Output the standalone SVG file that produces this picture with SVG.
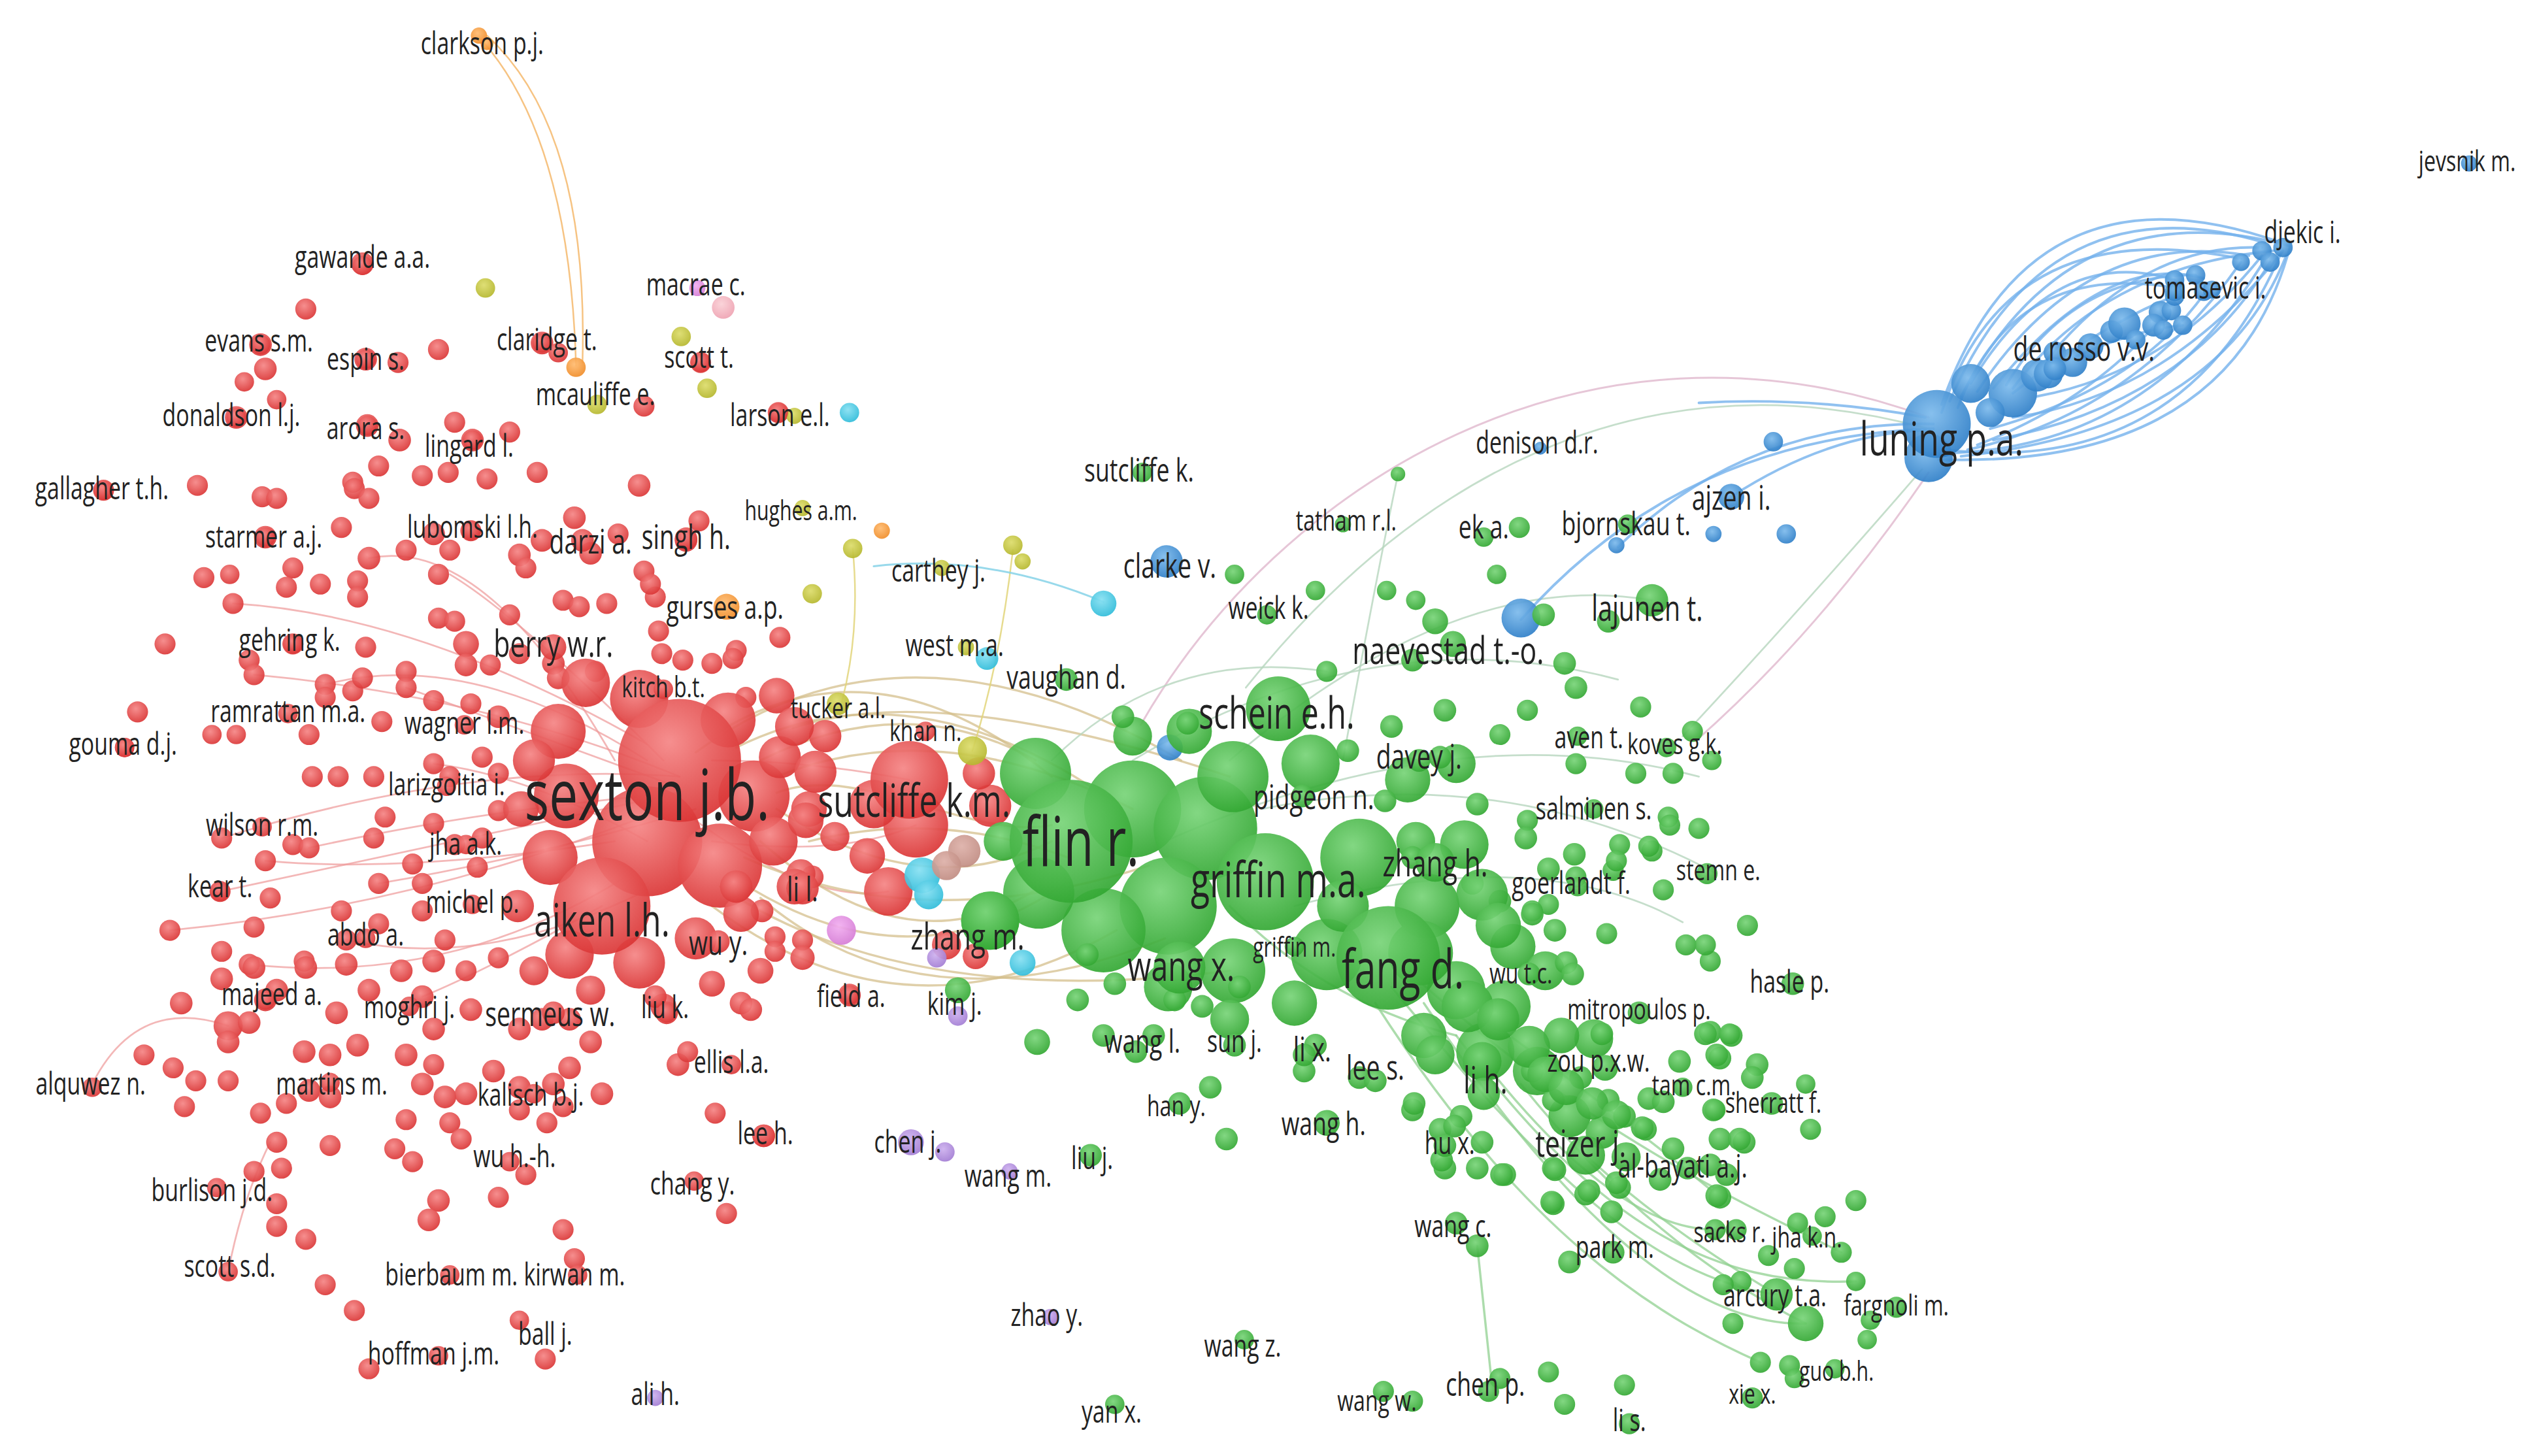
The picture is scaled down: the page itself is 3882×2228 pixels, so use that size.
<svg xmlns="http://www.w3.org/2000/svg" width="3882" height="2228" viewBox="0 0 3882 2228">
<defs>
<radialGradient id="gr" cx="0.42" cy="0.35" r="0.7"><stop offset="0" stop-color="#f58585"/><stop offset="1" stop-color="#d93131"/></radialGradient>
<radialGradient id="gg" cx="0.42" cy="0.35" r="0.7"><stop offset="0" stop-color="#78d478"/><stop offset="1" stop-color="#2fa52f"/></radialGradient>
<radialGradient id="gb" cx="0.42" cy="0.35" r="0.7"><stop offset="0" stop-color="#7cbaec"/><stop offset="1" stop-color="#2b7cc6"/></radialGradient>
<radialGradient id="gy" cx="0.42" cy="0.35" r="0.7"><stop offset="0" stop-color="#dcdc6a"/><stop offset="1" stop-color="#b3b52a"/></radialGradient>
<radialGradient id="go" cx="0.42" cy="0.35" r="0.7"><stop offset="0" stop-color="#ffbb70"/><stop offset="1" stop-color="#ef8a25"/></radialGradient>
<radialGradient id="gc" cx="0.42" cy="0.35" r="0.7"><stop offset="0" stop-color="#86e0f2"/><stop offset="1" stop-color="#2bbad8"/></radialGradient>
<radialGradient id="gp" cx="0.42" cy="0.35" r="0.7"><stop offset="0" stop-color="#cdb0ee"/><stop offset="1" stop-color="#a07ad2"/></radialGradient>
<radialGradient id="gm" cx="0.42" cy="0.35" r="0.7"><stop offset="0" stop-color="#f2aef0"/><stop offset="1" stop-color="#d47ad4"/></radialGradient>
<radialGradient id="gk" cx="0.42" cy="0.35" r="0.7"><stop offset="0" stop-color="#fad0d6"/><stop offset="1" stop-color="#eea0b0"/></radialGradient>
<radialGradient id="gn" cx="0.42" cy="0.35" r="0.7"><stop offset="0" stop-color="#ddb0a8"/><stop offset="1" stop-color="#bf8a80"/></radialGradient>
</defs>
<style>
circle{fill-opacity:.92}
.r circle{fill:url(#gr)} .g circle{fill:url(#gg)} .b circle{fill:url(#gb)} .y circle{fill:url(#gy)}
.o circle{fill:url(#go)} .c circle{fill:url(#gc)} .p circle{fill:url(#gp)} .m circle{fill:url(#gm)}
.k circle{fill:url(#gk)} .n circle{fill:url(#gn)}
path{fill:none;stroke-linecap:round}
.er path{stroke:#ee9898;stroke-width:1.1;opacity:.7}
.et path{stroke:#d4bf8c;stroke-width:1.4;opacity:.75}
.eg path{stroke:#90d090;stroke-width:1.4;opacity:.75}
.el path{stroke:#b6d6be;stroke-width:1.1;opacity:.8}
.eb path{stroke:#74b1ec;stroke-width:1.6;opacity:.8}
.eo path{stroke:#f5bd74;stroke-width:1;opacity:.9}
.ec path{stroke:#86d2e8;stroke-width:1.2;opacity:.85}
.ep path{stroke:#e2bcd0;stroke-width:1.2;opacity:.85}
.ey path{stroke:#e2d57a;stroke-width:1;opacity:.85}
text{font-family:"Open Sans","Noto Sans","Liberation Sans",sans-serif;font-size:19px;fill:#222;text-anchor:middle;dominant-baseline:central;transform-box:fill-box;transform-origin:center;transform:scaleX(.72)}
</style>
<rect width="3882" height="2228" fill="#ffffff"/>
<g transform="scale(2.4758)">
<g id="connectors">
<g class="er">
<path d="M420,480 Q300,430 157,417"/><path d="M420,480 Q290,470 137,518"/><path d="M420,490 Q280,520 136,551"/>
<path d="M410,500 Q260,560 105,575"/><path d="M400,470 Q290,400 201,423"/><path d="M400,460 Q260,380 144,373"/>
<path d="M380,520 Q250,540 164,532"/><path d="M390,540 Q280,610 154,596"/><path d="M400,550 Q300,600 214,581"/>
<path d="M420,490 Q300,500 191,524"/><path d="M410,470 Q320,380 278,355"/><path d="M415,485 Q320,450 251,425"/>
<path d="M430,500 Q330,530 234,546"/><path d="M57,670 Q85,615 141,634"/><path d="M167,706 Q150,740 141,786"/>
<path d="M372,560 Q300,600 261,616"/><path d="M400,520 Q330,480 268,472"/><path d="M440,470 Q500,470 562,482"/>
<path d="M440,520 Q520,530 566,510"/><path d="M420,500 Q500,560 549,551"/><path d="M380,470 Q300,330 228,345"/>
</g>
<g class="et">
<path d="M440,455 Q540,390 650,480"/><path d="M455,462 Q560,410 680,490"/><path d="M470,470 Q560,425 640,470"/>
<path d="M480,480 Q580,440 700,500"/><path d="M430,465 Q560,370 730,470"/><path d="M450,540 Q560,615 660,545"/>
<path d="M470,520 Q560,600 640,550"/><path d="M440,560 Q560,650 690,575"/><path d="M480,500 Q570,560 650,520"/>
<path d="M460,530 Q570,580 710,535"/><path d="M480,490 C530,470 600,520 650,510"/><path d="M490,450 Q580,420 760,480"/>
<path d="M470,555 Q570,640 720,580"/><path d="M500,520 Q580,500 660,530"/><path d="M445,548 Q560,625 760,600"/>
</g>
<g class="ey"><path d="M527,339 Q532,390 520,435"/><path d="M626,340 Q618,410 601,464"/></g>
<g class="ec"><path d="M540,350 Q610,342 682,372"/></g>
<g class="eo"><path d="M297,24 Q352,85 356,226"/><path d="M301,22 Q364,80 360,224"/></g>
<g class="ep"><path d="M705,448 C790,300 980,180 1192,258"/><path d="M1192,292 Q1125,390 1048,458"/></g>
<g class="el">
<path d="M770,425 C870,300 1010,215 1192,265"/><path d="M1188,290 Q1110,380 1040,455"/>
<path d="M700,470 Q850,380 1000,420"/><path d="M720,520 Q900,440 1050,480"/><path d="M780,500 Q930,470 1061,540"/>
<path d="M800,560 Q950,520 1040,570"/><path d="M760,470 Q900,350 1021,371"/><path d="M650,470 Q720,400 820,415"/>
<path d="M830,470 Q850,360 864,293"/>
</g>
<g class="eg">
<path d="M860,610 C950,720 1020,790 1098,800"/><path d="M880,620 C960,740 1040,820 1116,818"/>
<path d="M900,640 C990,760 1060,795 1147,792"/><path d="M870,600 C980,700 1080,745 1138,774"/>
<path d="M850,620 C940,760 1020,812 1088,842"/><path d="M920,660 Q1000,760 1060,760"/>
<path d="M940,670 Q1020,770 1116,818"/><path d="M913,770 L922,855"/><path d="M905,620 Q990,680 1063,740"/>
<path d="M980,714 Q1030,760 1098,800"/><path d="M760,560 Q820,620 900,640"/>
</g>
<g class="eb">
<path d="M940,383 Q1040,270 1195,265"/><path d="M1000,338 Q1080,260 1195,262"/><path d="M1070,307 Q1130,268 1190,266"/>
<path d="M1050,249 Q1120,245 1190,258"/>
<path d="M1200,250 Q1255,95 1410,150"/><path d="M1205,248 Q1265,110 1400,150"/><path d="M1212,245 Q1280,115 1415,152"/>
<path d="M1222,242 Q1290,140 1390,158"/><path d="M1232,240 Q1300,155 1362,172"/><path d="M1210,252 Q1245,160 1345,178"/>
<path d="M1244,240 Q1300,165 1405,155"/><path d="M1259,230 Q1320,150 1398,153"/><path d="M1240,238 Q1280,170 1357,170"/>
<path d="M1200,255 Q1240,130 1385,160"/><path d="M1218,237 Q1270,150 1344,173"/>
<path d="M1203,278 Q1350,295 1410,156"/><path d="M1207,280 Q1330,275 1400,160"/><path d="M1212,282 Q1370,265 1413,158"/>
<path d="M1216,278 Q1320,255 1385,162"/><path d="M1222,275 Q1300,245 1344,186"/><path d="M1232,272 Q1350,250 1403,162"/>
<path d="M1244,258 Q1340,245 1411,155"/><path d="M1198,284 Q1380,290 1416,150"/><path d="M1230,265 Q1320,240 1362,182"/>
<path d="M1259,245 Q1340,230 1398,158"/><path d="M1244,243 Q1300,200 1344,183"/><path d="M1259,232 Q1310,205 1349,201"/>
</g>
</g>
<g id="minor-nodes">
<g class="r">
<circle cx="224" cy="163" r="7"/><circle cx="189" cy="191" r="6.5"/><circle cx="161" cy="213" r="7"/><circle cx="164" cy="228" r="7"/><circle cx="151" cy="236" r="6"/><circle cx="171" cy="247" r="6"/><circle cx="146" cy="258" r="7"/><circle cx="226" cy="222" r="7"/><circle cx="246" cy="224" r="6.5"/><circle cx="271" cy="216" r="6.5"/><circle cx="335" cy="212" r="7"/><circle cx="345" cy="218" r="6"/><circle cx="398" cy="251" r="6.5"/><circle cx="433" cy="224" r="6.5"/><circle cx="481" cy="255" r="6.5"/><circle cx="227" cy="263" r="7"/><circle cx="247" cy="272" r="7"/><circle cx="234" cy="288" r="6.5"/><circle cx="281" cy="261" r="6.5"/><circle cx="292" cy="272" r="7"/><circle cx="315" cy="267" r="6.5"/><circle cx="332" cy="292" r="6.5"/><circle cx="261" cy="294" r="6.5"/><circle cx="277" cy="292" r="6.5"/><circle cx="301" cy="296" r="6.5"/><circle cx="395" cy="300" r="7"/><circle cx="218" cy="298" r="6.5"/><circle cx="122" cy="300" r="6.5"/><circle cx="64" cy="303" r="6.5"/><circle cx="162" cy="307" r="6.5"/><circle cx="171" cy="308" r="6.5"/><circle cx="219" cy="302" r="6.5"/><circle cx="228" cy="308" r="6.5"/>
<circle cx="164" cy="332" r="7"/><circle cx="211" cy="326" r="6.5"/><circle cx="228" cy="345" r="7"/><circle cx="251" cy="340" r="6.5"/><circle cx="268" cy="330" r="7"/><circle cx="278" cy="340" r="6.5"/><circle cx="291" cy="328" r="6.5"/><circle cx="321" cy="343" r="7"/><circle cx="335" cy="334" r="7"/><circle cx="355" cy="320" r="7"/><circle cx="365" cy="342" r="7"/><circle cx="382" cy="330" r="6.5"/><circle cx="398" cy="353" r="6.5"/><circle cx="424" cy="334" r="7"/><circle cx="432" cy="322" r="6.5"/>
<circle cx="126" cy="357" r="6.5"/><circle cx="142" cy="355" r="6"/><circle cx="144" cy="373" r="6.5"/><circle cx="181" cy="351" r="6.5"/><circle cx="177" cy="363" r="6.5"/><circle cx="198" cy="361" r="6.5"/><circle cx="221" cy="359" r="6.5"/><circle cx="221" cy="369" r="6.5"/><circle cx="271" cy="355" r="6.5"/><circle cx="271" cy="382" r="6.5"/><circle cx="281" cy="384" r="6.5"/><circle cx="315" cy="380" r="6.5"/><circle cx="325" cy="351" r="6.5"/><circle cx="348" cy="371" r="6.5"/><circle cx="358" cy="375" r="6.5"/><circle cx="375" cy="373" r="6.5"/><circle cx="405" cy="369" r="6.5"/><circle cx="402" cy="361" r="6.5"/>
<circle cx="102" cy="398" r="6.5"/><circle cx="154" cy="408" r="6.5"/><circle cx="157" cy="417" r="6.5"/><circle cx="181" cy="398" r="6.5"/><circle cx="201" cy="423" r="6.5"/><circle cx="218" cy="427" r="6.5"/><circle cx="224" cy="419" r="6.5"/><circle cx="226" cy="400" r="6.5"/><circle cx="251" cy="415" r="6.5"/><circle cx="251" cy="425" r="6.5"/><circle cx="288" cy="398" r="8"/><circle cx="288" cy="411" r="7"/><circle cx="303" cy="411" r="6.5"/><circle cx="321" cy="404" r="6.5"/><circle cx="342" cy="410" r="7"/><circle cx="345" cy="419" r="7"/><circle cx="368" cy="415" r="6.5"/>
<circle cx="407" cy="390" r="6.5"/><circle cx="409" cy="404" r="6.5"/><circle cx="422" cy="408" r="6.5"/><circle cx="440" cy="410" r="6.5"/><circle cx="455" cy="402" r="6.5"/><circle cx="482" cy="394" r="6.5"/><circle cx="461" cy="431" r="6.5"/>
<circle cx="85" cy="440" r="6.5"/><circle cx="77" cy="462" r="6"/><circle cx="131" cy="454" r="6"/><circle cx="146" cy="454" r="6"/><circle cx="191" cy="454" r="6.5"/><circle cx="201" cy="431" r="6.5"/><circle cx="236" cy="446" r="6.5"/><circle cx="268" cy="433" r="6.5"/><circle cx="291" cy="435" r="6.5"/><circle cx="308" cy="443" r="7"/>
<circle cx="193" cy="480" r="6.5"/><circle cx="209" cy="480" r="6.5"/><circle cx="231" cy="480" r="6.5"/><circle cx="268" cy="472" r="6.5"/><circle cx="278" cy="480" r="6.5"/><circle cx="298" cy="468" r="6.5"/><circle cx="308" cy="478" r="6.5"/>
<circle cx="137" cy="518" r="6.5"/><circle cx="181" cy="522" r="6.5"/><circle cx="191" cy="524" r="6.5"/><circle cx="231" cy="518" r="6.5"/><circle cx="238" cy="505" r="6.5"/><circle cx="268" cy="509" r="6.5"/><circle cx="281" cy="522" r="6.5"/><circle cx="298" cy="518" r="6.5"/><circle cx="308" cy="501" r="6.5"/>
<circle cx="136" cy="551" r="6.5"/><circle cx="164" cy="532" r="6.5"/><circle cx="167" cy="555" r="6.5"/><circle cx="234" cy="546" r="6.5"/><circle cx="255" cy="534" r="6.5"/><circle cx="261" cy="546" r="6.5"/><circle cx="295" cy="536" r="6.5"/>
<circle cx="105" cy="575" r="6.5"/><circle cx="157" cy="573" r="6.5"/><circle cx="137" cy="588" r="6.5"/><circle cx="154" cy="596" r="6.5"/><circle cx="188" cy="594" r="6.5"/><circle cx="211" cy="563" r="6.5"/><circle cx="214" cy="581" r="6.5"/><circle cx="234" cy="571" r="6.5"/><circle cx="261" cy="563" r="6.5"/><circle cx="275" cy="581" r="6.5"/><circle cx="288" cy="600" r="6.5"/><circle cx="308" cy="592" r="6.5"/>
<circle cx="471" cy="563" r="7"/><circle cx="479" cy="579" r="6.5"/><circle cx="496" cy="581" r="6.5"/><circle cx="502" cy="542" r="7"/>
<circle cx="400" cy="520" r="34"/><circle cx="445" cy="535" r="26"/><circle cx="466" cy="492" r="22"/><circle cx="350" cy="492" r="20"/><circle cx="345" cy="452" r="17"/><circle cx="362" cy="422" r="15"/><circle cx="395" cy="432" r="18"/><circle cx="450" cy="445" r="17"/><circle cx="482" cy="468" r="13"/><circle cx="478" cy="520" r="15"/><circle cx="340" cy="530" r="17"/><circle cx="352" cy="590" r="15"/><circle cx="395" cy="595" r="16"/><circle cx="430" cy="580" r="13"/><circle cx="458" cy="565" r="11"/><circle cx="322" cy="500" r="11"/><circle cx="330" cy="470" r="13"/><circle cx="480" cy="430" r="11"/><circle cx="510" cy="455" r="10"/><circle cx="500" cy="500" r="11"/><circle cx="495" cy="540" r="9"/><circle cx="320" cy="560" r="10"/><circle cx="330" cy="600" r="9"/><circle cx="365" cy="612" r="9"/><circle cx="410" cy="622" r="8"/><circle cx="440" cy="608" r="8"/><circle cx="470" cy="600" r="8"/>
<circle cx="453" cy="407" r="6.5"/><circle cx="491" cy="449" r="12"/><circle cx="504" cy="477" r="13"/><circle cx="498" cy="507" r="11"/><circle cx="516" cy="517" r="9"/><circle cx="536" cy="529" r="11"/><circle cx="549" cy="551" r="15"/><circle cx="491" cy="548" r="11"/><circle cx="455" cy="548" r="10"/><circle cx="479" cy="588" r="6.5"/><circle cx="496" cy="592" r="7.5"/><circle cx="458" cy="620" r="7"/><circle cx="525" cy="615" r="7"/>
<circle cx="566" cy="510" r="20"/><circle cx="540" cy="497" r="15"/><circle cx="612" cy="498" r="13"/><circle cx="605" cy="478" r="10"/><circle cx="585" cy="584" r="9"/><circle cx="603" cy="591" r="8"/>
<circle cx="112" cy="620" r="7"/><circle cx="141" cy="634" r="9"/><circle cx="141" cy="644" r="7"/><circle cx="154" cy="632" r="7"/><circle cx="137" cy="605" r="7"/><circle cx="157" cy="598" r="7"/><circle cx="189" cy="598" r="7"/><circle cx="214" cy="596" r="7"/><circle cx="171" cy="612" r="7"/><circle cx="164" cy="618" r="7"/><circle cx="208" cy="626" r="7"/><circle cx="228" cy="612" r="7"/><circle cx="248" cy="600" r="7"/><circle cx="261" cy="616" r="7"/><circle cx="268" cy="636" r="7"/><circle cx="268" cy="594" r="7"/><circle cx="291" cy="624" r="7"/><circle cx="321" cy="636" r="7"/><circle cx="335" cy="630" r="7"/><circle cx="352" cy="630" r="7"/><circle cx="365" cy="644" r="7"/><circle cx="412" cy="626" r="7"/><circle cx="405" cy="616" r="7"/><circle cx="464" cy="624" r="7"/>
<circle cx="89" cy="652" r="6.5"/><circle cx="107" cy="660" r="6.5"/><circle cx="121" cy="668" r="6.5"/><circle cx="141" cy="668" r="6.5"/><circle cx="114" cy="684" r="6.5"/><circle cx="188" cy="650" r="7"/><circle cx="204" cy="652" r="7"/><circle cx="221" cy="646" r="7"/><circle cx="191" cy="674" r="7"/><circle cx="204" cy="678" r="7"/><circle cx="177" cy="682" r="6.5"/><circle cx="161" cy="688" r="6.5"/><circle cx="251" cy="652" r="7"/><circle cx="268" cy="658" r="6.5"/><circle cx="261" cy="670" r="7"/><circle cx="275" cy="678" r="7"/><circle cx="288" cy="676" r="7"/><circle cx="305" cy="662" r="7"/><circle cx="321" cy="672" r="7"/><circle cx="342" cy="670" r="7"/><circle cx="352" cy="660" r="7"/><circle cx="372" cy="676" r="7"/><circle cx="321" cy="686" r="6.5"/><circle cx="338" cy="694" r="6.5"/><circle cx="348" cy="684" r="6.5"/><circle cx="419" cy="658" r="7"/><circle cx="425" cy="650" r="6.5"/><circle cx="442" cy="688" r="6.5"/><circle cx="472" cy="702" r="7"/>
<circle cx="278" cy="694" r="6.5"/><circle cx="285" cy="704" r="6.5"/><circle cx="251" cy="692" r="6.5"/><circle cx="244" cy="710" r="6.5"/><circle cx="255" cy="718" r="6.5"/><circle cx="204" cy="708" r="6.5"/><circle cx="174" cy="722" r="6.5"/><circle cx="171" cy="706" r="6.5"/><circle cx="325" cy="726" r="6.5"/><circle cx="308" cy="740" r="6.5"/><circle cx="157" cy="724" r="6.5"/><circle cx="171" cy="744" r="6.5"/><circle cx="171" cy="758" r="6.5"/><circle cx="271" cy="742" r="7"/><circle cx="265" cy="754" r="7"/><circle cx="449" cy="750" r="6.5"/><circle cx="189" cy="766" r="6.5"/><circle cx="348" cy="760" r="6.5"/><circle cx="355" cy="778" r="6.5"/><circle cx="201" cy="794" r="6.5"/><circle cx="219" cy="810" r="6.5"/><circle cx="337" cy="840" r="6.5"/><circle cx="228" cy="846" r="6.5"/>
</g>
<g class="o"><circle cx="301" cy="27" r="4"/><circle cx="356" cy="227" r="6"/><circle cx="545" cy="328" r="5"/></g>
<g class="y"><circle cx="300" cy="178" r="6"/><circle cx="421" cy="208" r="6"/><circle cx="437" cy="240" r="6"/><circle cx="491" cy="257" r="5"/><circle cx="527" cy="339" r="6"/><circle cx="502" cy="367" r="6"/><circle cx="626" cy="337" r="6"/><circle cx="632" cy="347" r="5"/><circle cx="601" cy="464" r="9"/></g>
<g class="c"><circle cx="525" cy="255" r="6"/><circle cx="682" cy="373" r="8"/><circle cx="610" cy="407" r="7"/><circle cx="570" cy="541" r="11"/><circle cx="574" cy="553" r="9"/><circle cx="632" cy="595" r="8"/></g>
<g class="k"><circle cx="447" cy="190" r="7"/></g>
<g class="m"><circle cx="520" cy="575" r="9"/></g>
<g class="n"><circle cx="596" cy="526" r="10"/><circle cx="585" cy="535" r="9"/></g>
<g class="p"><circle cx="579" cy="592" r="6"/><circle cx="592" cy="628" r="6"/><circle cx="584" cy="712" r="6"/></g>
<g class="b">
<circle cx="723" cy="462" r="8"/><circle cx="940" cy="382" r="12"/><circle cx="1059" cy="330" r="5"/><circle cx="1104" cy="330" r="6"/><circle cx="1096" cy="273" r="6"/>
<circle cx="1192" cy="283" r="15"/><circle cx="1218" cy="237" r="12"/><circle cx="1244" cy="243" r="15"/><circle cx="1230" cy="255" r="9"/><circle cx="1259" cy="232" r="10"/><circle cx="1266" cy="231" r="9"/><circle cx="1270" cy="218" r="7"/><circle cx="1281" cy="224" r="9"/><circle cx="1292" cy="214" r="8"/><circle cx="1305" cy="205" r="7"/><circle cx="1313" cy="200" r="10"/><circle cx="1320" cy="210" r="6"/><circle cx="1335" cy="193" r="7"/><circle cx="1331" cy="201" r="7"/><circle cx="1342" cy="192" r="6"/><circle cx="1344" cy="183" r="6"/><circle cx="1344" cy="173" r="6"/><circle cx="1357" cy="170" r="6"/><circle cx="1362" cy="180" r="6"/><circle cx="1349" cy="201" r="6"/><circle cx="1337" cy="204" r="6"/><circle cx="1367" cy="179" r="5.5"/><circle cx="1385" cy="162" r="5.5"/><circle cx="1398" cy="155" r="6"/><circle cx="1403" cy="162" r="6"/>
</g>
<g class="g">
<circle cx="640" cy="478" r="22"/><circle cx="700" cy="500" r="30"/><circle cx="745" cy="512" r="32"/><circle cx="722" cy="560" r="30"/><circle cx="682" cy="575" r="26"/><circle cx="642" cy="552" r="22"/><circle cx="762" cy="480" r="22"/><circle cx="810" cy="472" r="18"/><circle cx="840" cy="530" r="24"/><circle cx="882" cy="560" r="20"/><circle cx="820" cy="590" r="22"/><circle cx="762" cy="600" r="20"/><circle cx="722" cy="610" r="15"/><circle cx="735" cy="452" r="14"/><circle cx="900" cy="612" r="18"/><circle cx="930" cy="622" r="16"/><circle cx="918" cy="650" r="18"/><circle cx="950" cy="662" r="15"/><circle cx="970" cy="690" r="13"/><circle cx="985" cy="642" r="12"/><circle cx="905" cy="522" r="15"/><circle cx="870" cy="482" r="14"/><circle cx="900" cy="472" r="12"/><circle cx="612" cy="569" r="18"/><circle cx="620" cy="520" r="12"/><circle cx="700" cy="455" r="12"/><circle cx="760" cy="630" r="12"/><circle cx="800" cy="620" r="14"/><circle cx="830" cy="560" r="16"/><circle cx="880" cy="640" r="14"/><circle cx="875" cy="520" r="12"/><circle cx="935" cy="585" r="14"/><circle cx="955" cy="600" r="12"/><circle cx="965" cy="640" r="11"/><circle cx="990" cy="700" r="10"/><circle cx="1005" cy="715" r="9"/>
<circle cx="864" cy="293" r="4.5"/><circle cx="939" cy="326" r="6.5"/><circle cx="1006" cy="324" r="6"/><circle cx="763" cy="355" r="6"/><circle cx="813" cy="365" r="6"/><circle cx="857" cy="365" r="6"/><circle cx="875" cy="371" r="6"/><circle cx="925" cy="355" r="6"/><circle cx="887" cy="384" r="8"/><circle cx="873" cy="408" r="7"/><circle cx="954" cy="380" r="7"/><circle cx="967" cy="410" r="7"/><circle cx="974" cy="425" r="7"/><circle cx="994" cy="384" r="7"/><circle cx="820" cy="415" r="6.5"/><circle cx="694" cy="443" r="7"/><circle cx="734" cy="447" r="7"/><circle cx="893" cy="439" r="7"/><circle cx="944" cy="439" r="6.5"/><circle cx="927" cy="454" r="6.5"/><circle cx="1014" cy="437" r="6.5"/><circle cx="974" cy="472" r="6.5"/><circle cx="1011" cy="478" r="6.5"/><circle cx="1034" cy="478" r="6.5"/><circle cx="860" cy="449" r="7"/><circle cx="890" cy="468" r="7"/><circle cx="833" cy="464" r="7"/><circle cx="856" cy="495" r="7"/><circle cx="913" cy="497" r="7"/><circle cx="944" cy="507" r="6.5"/><circle cx="1031" cy="505" r="6.5"/><circle cx="1001" cy="522" r="6.5"/><circle cx="1021" cy="526" r="6.5"/><circle cx="873" cy="530" r="7"/><circle cx="910" cy="546" r="7"/><circle cx="927" cy="557" r="7"/><circle cx="957" cy="559" r="6.5"/><circle cx="974" cy="542" r="6.5"/><circle cx="997" cy="538" r="6.5"/><circle cx="947" cy="563" r="6.5"/><circle cx="1046" cy="452" r="6.5"/><circle cx="1058" cy="470" r="6"/>
<circle cx="672" cy="590" r="7"/><circle cx="689" cy="608" r="7"/><circle cx="666" cy="618" r="7"/><circle cx="641" cy="644" r="8"/><circle cx="726" cy="618" r="7"/><circle cx="743" cy="622" r="7"/><circle cx="766" cy="610" r="7"/><circle cx="682" cy="640" r="7"/><circle cx="713" cy="640" r="7"/><circle cx="813" cy="646" r="7"/><circle cx="806" cy="662" r="7"/><circle cx="840" cy="666" r="7"/><circle cx="748" cy="672" r="7"/><circle cx="758" cy="704" r="7"/><circle cx="873" cy="686" r="7"/><circle cx="890" cy="698" r="7"/><circle cx="903" cy="690" r="7"/><circle cx="893" cy="722" r="7"/><circle cx="913" cy="722" r="7"/><circle cx="930" cy="726" r="7"/><circle cx="947" cy="662" r="7"/><circle cx="960" cy="680" r="7"/><circle cx="977" cy="666" r="7"/><circle cx="994" cy="680" r="7"/><circle cx="1004" cy="690" r="7"/><circle cx="1017" cy="698" r="7"/><circle cx="1034" cy="710" r="7"/><circle cx="960" cy="722" r="7"/><circle cx="980" cy="738" r="7"/><circle cx="960" cy="744" r="7"/><circle cx="1001" cy="734" r="7"/><circle cx="913" cy="770" r="7"/><circle cx="970" cy="780" r="7"/><circle cx="927" cy="852" r="6.5"/><circle cx="957" cy="848" r="6.5"/><circle cx="967" cy="868" r="6.5"/><circle cx="1004" cy="856" r="6.5"/><circle cx="873" cy="866" r="6.5"/>
<circle cx="1057" cy="594" r="6.5"/><circle cx="1057" cy="638" r="7"/><circle cx="1070" cy="640" r="7"/><circle cx="1063" cy="654" r="7"/><circle cx="1086" cy="658" r="7"/><circle cx="1083" cy="666" r="7"/><circle cx="1116" cy="670" r="6"/><circle cx="1060" cy="686" r="6.5"/><circle cx="1119" cy="698" r="6.5"/><circle cx="1063" cy="704" r="7"/><circle cx="1078" cy="706" r="7"/><circle cx="1057" cy="720" r="7"/><circle cx="1067" cy="726" r="7"/><circle cx="1063" cy="740" r="7"/><circle cx="1147" cy="742" r="6.5"/><circle cx="1060" cy="760" r="6.5"/><circle cx="1111" cy="756" r="6.5"/><circle cx="1128" cy="752" r="6.5"/><circle cx="1138" cy="774" r="6.5"/><circle cx="1093" cy="776" r="6.5"/><circle cx="1116" cy="818" r="11"/><circle cx="1109" cy="784" r="6.5"/><circle cx="1076" cy="792" r="6.5"/><circle cx="1065" cy="794" r="6.5"/><circle cx="1071" cy="818" r="6.5"/><circle cx="1147" cy="792" r="6"/><circle cx="1156" cy="816" r="6"/><circle cx="1154" cy="828" r="6"/><circle cx="1106" cy="844" r="6.5"/><circle cx="1088" cy="842" r="6.5"/><circle cx="1109" cy="852" r="6"/>
<circle cx="1032" cy="510" r="6.5"/><circle cx="1050" cy="512" r="6.5"/><circle cx="1019" cy="523" r="6.5"/><circle cx="973" cy="528" r="7"/><circle cx="999" cy="532" r="6.5"/><circle cx="1028" cy="550" r="6.5"/><circle cx="943" cy="518" r="7"/><circle cx="957" cy="537" r="7"/><circle cx="947" cy="565" r="7"/><circle cx="961" cy="575" r="7"/><circle cx="993" cy="577" r="6.5"/><circle cx="1042" cy="584" r="6.5"/><circle cx="1054" cy="584" r="6.5"/><circle cx="1080" cy="572" r="6.5"/><circle cx="968" cy="595" r="7"/><circle cx="972" cy="602" r="7"/><circle cx="990" cy="639" r="7"/><circle cx="1054" cy="639" r="7"/><circle cx="1069" cy="639" r="6.5"/><circle cx="1061" cy="652" r="7"/><circle cx="1038" cy="656" r="7"/><circle cx="1019" cy="679" r="7"/><circle cx="1028" cy="681" r="7"/><circle cx="1059" cy="686" r="7"/><circle cx="1075" cy="704" r="7"/><circle cx="1015" cy="697" r="7"/><circle cx="961" cy="723" r="7"/><circle cx="982" cy="736" r="7"/><circle cx="999" cy="731" r="7"/><circle cx="1026" cy="729" r="7"/><circle cx="1061" cy="739" r="7"/><circle cx="959" cy="743" r="7"/><circle cx="996" cy="749" r="7"/><circle cx="874" cy="682" r="7"/><circle cx="916" cy="706" r="7"/><circle cx="899" cy="696" r="7"/><circle cx="891" cy="717" r="7"/><circle cx="928" cy="726" r="7"/>
<circle cx="878" cy="589" r="20"/><circle cx="916" cy="553" r="16"/><circle cx="926" cy="572" r="14"/><circle cx="907" cy="622" r="16"/><circle cx="926" cy="630" r="13"/><circle cx="945" cy="647" r="13"/><circle cx="916" cy="656" r="12"/><circle cx="955" cy="664" r="11"/><circle cx="968" cy="672" r="11"/><circle cx="984" cy="682" r="10"/><circle cx="999" cy="689" r="9"/><circle cx="887" cy="652" r="12"/>
</g>
</g>
<g id="nodes">
<g id="n-flin-r" class="g"><circle cx="662" cy="520" r="38"/><text x="668" y="519" style="font-size:42px">flin r.</text></g>
<g id="n-sexton-jb" class="r"><circle cx="420" cy="470" r="38"/><text x="400" y="490" style="font-size:44px">sexton j.b.</text></g>
<g id="n-fang-d" class="g"><circle cx="858" cy="592" r="32"/><text x="867" y="598" style="font-size:33px">fang d.</text></g>
<g id="n-griffin-ma" class="g"><circle cx="782" cy="545" r="30"/><text x="790" y="543" style="font-size:30px">griffin m.a.</text></g>
<g id="n-aiken-lh" class="r"><circle cx="372" cy="560" r="30"/><text x="372" y="568" style="font-size:28px">aiken l.h.</text></g>
<g id="n-sutcliffe-km" class="r"><circle cx="562" cy="482" r="24"/><text x="565" y="494" style="font-size:28px">sutcliffe k.m.</text></g>
<g id="n-luning-pa" class="b"><circle cx="1197" cy="262" r="21"/><text x="1200" y="270" style="font-size:29px">luning p.a.</text></g>
<g id="n-schein-eh" class="g"><circle cx="790" cy="438" r="20"/><text x="789" y="440" style="font-size:27px">schein e.h.</text></g>
<g id="n-wang-x" class="g"><circle cx="729" cy="598" r="16"/><text x="730" y="596" style="font-size:26px">wang x.</text></g>
<g id="n-zhang-h" class="g"><circle cx="887" cy="533" r="12"/><text x="887" y="533" style="font-size:23px">zhang h.</text></g>
<g id="n-teizer-j" class="g"><circle cx="980" cy="714" r="12"/><text x="977" y="706" style="font-size:23px">teizer j.</text></g>
<g id="n-li-h" class="g"><circle cx="917" cy="676" r="10"/><text x="918" y="667" style="font-size:23px">li h.</text></g>
<g id="n-lajunen-t" class="g"><circle cx="1021" cy="371" r="10"/><text x="1018" y="375" style="font-size:22px">lajunen t.</text></g>
<g id="n-naevestad-to" class="g"><circle cx="898" cy="398" r="8"/><text x="895" y="401" style="font-size:24px">naevestad t.-o.</text></g>
<g id="n-clarke-v" class="b"><circle cx="721" cy="347" r="10"/><text x="723" y="349" style="font-size:21px">clarke v.</text></g>
<g id="n-ajzen-i" class="b"><circle cx="1070" cy="307" r="8"/><text x="1070" y="307" style="font-size:21px">ajzen i.</text></g>
<g id="n-berry-wr" class="r"><circle cx="342" cy="400" r="8"/><text x="342" y="397" style="font-size:23px">berry w.r.</text></g>
<g id="n-zhang-m" class="g"><circle cx="612" cy="569" r="18"/><text x="598" y="578" style="font-size:23px">zhang m.</text></g>
<g id="n-darzi-a" class="r"><circle cx="360" cy="334" r="7"/><text x="365" y="334" style="font-size:21px">darzi a.</text></g>
<g id="n-singh-h" class="r"><circle cx="424" cy="333" r="7"/><text x="424" y="331" style="font-size:21px">singh h.</text></g>
<g id="n-pidgeon-n" class="g"><circle cx="805" cy="492" r="7"/><text x="812" y="492" style="font-size:21px">pidgeon n.</text></g>
<g id="n-davey-j" class="g"><circle cx="877" cy="470" r="7"/><text x="877" y="467" style="font-size:21px">davey j.</text></g>
<g id="n-sermeus-w" class="r"><circle cx="342" cy="626" r="7"/><text x="340" y="626" style="font-size:21px">sermeus w.</text></g>
<g id="n-wu-y" class="r"><circle cx="444" cy="582" r="7"/><text x="444" y="582" style="font-size:21px">wu y.</text></g>
<g id="n-li-l" class="r"><circle cx="496" cy="549" r="10"/><text x="496" y="549" style="font-size:21px">li l.</text></g>
<g id="n-li-x" class="g"><circle cx="806" cy="652" r="7"/><text x="811" y="648" style="font-size:21px">li x.</text></g>
<g id="n-lee-s" class="g"><circle cx="850" cy="668" r="7"/><text x="850" y="659" style="font-size:21px">lee s.</text></g>
<g id="n-de-rosso-vv" class="b"><circle cx="1270" cy="228" r="7"/><text x="1288" y="215" style="font-size:21px">de rosso v.v.</text></g>
<g id="n-clarkson-pj" class="o"><circle cx="296" cy="22" r="5"/><text x="298" y="26">clarkson p.j.</text></g>
<g id="n-gawande-aa" class="r"><circle cx="224" cy="164" r="6"/><text x="224" y="158">gawande a.a.</text></g>
<g id="n-macrae-c" class="m"><circle cx="431" cy="178" r="5"/><text x="430" y="175">macrae c.</text></g>
<g id="n-evans-sm" class="r"><circle cx="161" cy="213" r="6"/><text x="160" y="210">evans s.m.</text></g>
<g id="n-espin-s" class="r"><circle cx="226" cy="222" r="6"/><text x="226" y="221">espin s.</text></g>
<g id="n-claridge-t" class="r"><circle cx="335" cy="212" r="6"/><text x="338" y="209">claridge t.</text></g>
<g id="n-scott-t" class="r"><circle cx="433" cy="224" r="6"/><text x="432" y="220">scott t.</text></g>
<g id="n-donaldson-lj" class="r"><circle cx="146" cy="258" r="6"/><text x="143" y="256">donaldson l.j.</text></g>
<g id="n-arora-s" class="r"><circle cx="227" cy="263" r="6"/><text x="226" y="264">arora s.</text></g>
<g id="n-mcauliffe-e" class="y"><circle cx="369" cy="250" r="6"/><text x="368" y="243">mcauliffe e.</text></g>
<g id="n-larson-el" class="r"><circle cx="481" cy="255" r="6"/><text x="482" y="256">larson e.l.</text></g>
<g id="n-lingard-l" class="r"><circle cx="292" cy="272" r="6"/><text x="290" y="275">lingard l.</text></g>
<g id="n-gallagher-th" class="r"><circle cx="64" cy="303" r="6"/><text x="63" y="301">gallagher t.h.</text></g>
<g id="n-starmer-aj" class="r"><circle cx="164" cy="332" r="6"/><text x="163" y="331">starmer a.j.</text></g>
<g id="n-lubomski-lh" class="r"><circle cx="291" cy="328" r="6"/><text x="292" y="325">lubomski l.h.</text></g>
<g id="n-hughes-am" class="y"><circle cx="496" cy="314" r="5"/><text x="495" y="315" style="font-size:17px">hughes a.m.</text></g>
<g id="n-gehring-k" class="r"><circle cx="181" cy="398" r="6"/><text x="179" y="395">gehring k.</text></g>
<g id="n-gurses-ap" class="o"><circle cx="449" cy="375" r="8"/><text x="448" y="375" style="font-size:20px">gurses a.p.</text></g>
<g id="n-kitch-bt" class="r"><circle cx="410" cy="426" r="6"/><text x="410" y="424" style="font-size:18px">kitch b.t.</text></g>
<g id="n-ramrattan-ma" class="r"><circle cx="178" cy="441" r="6"/><text x="178" y="439">ramrattan m.a.</text></g>
<g id="n-wagner-lm" class="r"><circle cx="287" cy="448" r="6"/><text x="287" y="446">wagner l.m.</text></g>
<g id="n-gouma-dj" class="r"><circle cx="77" cy="462" r="6"/><text x="76" y="459">gouma d.j.</text></g>
<g id="n-larizgoitia-i" class="r"><circle cx="276" cy="486" r="6"/><text x="276" y="484">larizgoitia i.</text></g>
<g id="n-wilson-rm" class="r"><circle cx="162" cy="511" r="6"/><text x="162" y="509">wilson r.m.</text></g>
<g id="n-jha-ak" class="r"><circle cx="288" cy="522" r="6"/><text x="288" y="521">jha a.k.</text></g>
<g id="n-kear-t" class="r"><circle cx="136" cy="551" r="6"/><text x="136" y="547">kear t.</text></g>
<g id="n-michel-p" class="r"><circle cx="292" cy="559" r="6"/><text x="292" y="557">michel p.</text></g>
<g id="n-abdo-a" class="r"><circle cx="226" cy="580" r="6"/><text x="226" y="577">abdo a.</text></g>
<g id="n-majeed-a" class="r"><circle cx="164" cy="618" r="6"/><text x="168" y="614">majeed a.</text></g>
<g id="n-moghri-j" class="r"><circle cx="253" cy="622" r="6"/><text x="253" y="622">moghri j.</text></g>
<g id="n-liu-k" class="r"><circle cx="412" cy="626" r="6"/><text x="411" y="622">liu k.</text></g>
<g id="n-alquwez-n" class="r"><circle cx="57" cy="672" r="6"/><text x="56" y="669">alquwez n.</text></g>
<g id="n-martins-m" class="r"><circle cx="204" cy="669" r="6"/><text x="205" y="669">martins m.</text></g>
<g id="n-kalisch-bj" class="r"><circle cx="330" cy="676" r="6"/><text x="328" y="676">kalisch b.j.</text></g>
<g id="n-ellis-la" class="r"><circle cx="452" cy="658" r="6"/><text x="452" y="656">ellis l.a.</text></g>
<g id="n-lee-h" class="r"><circle cx="472" cy="702" r="7"/><text x="473" y="700">lee h.</text></g>
<g id="n-wu-hh" class="r"><circle cx="315" cy="718" r="6"/><text x="318" y="714">wu h.-h.</text></g>
<g id="n-burlison-jd" class="r"><circle cx="134" cy="734" r="6"/><text x="131" y="735">burlison j.d.</text></g>
<g id="n-chang-y" class="r"><circle cx="429" cy="730" r="6"/><text x="428" y="731">chang y.</text></g>
<g id="n-scott-sd" class="r"><circle cx="141" cy="786" r="6"/><text x="142" y="782">scott s.d.</text></g>
<g id="n-bierbaum-m" class="r"><circle cx="278" cy="788" r="6"/><text x="279" y="787">bierbaum m.</text></g>
<g id="n-kirwan-m" class="r"><circle cx="357" cy="788" r="6"/><text x="355" y="787">kirwan m.</text></g>
<g id="n-ball-j" class="r"><circle cx="321" cy="816" r="6"/><text x="337" y="824">ball j.</text></g>
<g id="n-hoffman-jm" class="r"><circle cx="271" cy="838" r="6"/><text x="268" y="836">hoffman j.m.</text></g>
<g id="n-ali-h" class="p"><circle cx="405" cy="864" r="5"/><text x="405" y="861">ali h.</text></g>
<g id="n-tucker-al" class="y"><circle cx="518" cy="435" r="7"/><text x="518" y="437" style="font-size:18px">tucker a.l.</text></g>
<g id="n-khan-n" class="r"><circle cx="572" cy="452" r="6"/><text x="572" y="451" style="font-size:18px">khan n.</text></g>
<g id="n-carthey-j" class="y"><circle cx="582" cy="351" r="5"/><text x="580" y="352">carthey j.</text></g>
<g id="n-west-ma" class="y"><circle cx="597" cy="400" r="5"/><text x="590" y="398">west m.a.</text></g>
<g id="n-field-a" class="r"><circle cx="525" cy="615" r="6"/><text x="526" y="615">field a.</text></g>
<g id="n-kim-j" class="g"><circle cx="592" cy="612" r="8"/><text x="590" y="620">kim j.</text></g>
<g id="n-chen-j" class="p"><circle cx="563" cy="706" r="8"/><text x="561" y="705">chen j.</text></g>
<g id="n-wang-m" class="p"><circle cx="624" cy="724" r="5"/><text x="623" y="726">wang m.</text></g>
<g id="n-zhao-y" class="p"><circle cx="649" cy="814" r="5"/><text x="647" y="812">zhao y.</text></g>
<g id="n-yan-x" class="g"><circle cx="689" cy="868" r="6"/><text x="687" y="872">yan x.</text></g>
<g id="n-wang-z" class="g"><circle cx="769" cy="828" r="6"/><text x="768" y="831">wang z.</text></g>
<g id="n-liu-j" class="g"><circle cx="674" cy="714" r="7"/><text x="675" y="715">liu j.</text></g>
<g id="n-sutcliffe-k" class="g"><circle cx="706" cy="292" r="6"/><text x="704" y="290" style="font-size:20px">sutcliffe k.</text></g>
<g id="n-tatham-rl" class="g"><circle cx="830" cy="324" r="5"/><text x="832" y="321" style="font-size:18px">tatham r.l.</text></g>
<g id="n-denison-dr" class="b"><circle cx="952" cy="277" r="4"/><text x="950" y="273">denison d.r.</text></g>
<g id="n-ek-a" class="g"><circle cx="917" cy="332" r="6"/><text x="917" y="325" style="font-size:20px">ek a.</text></g>
<g id="n-bjornskau-t" class="b"><circle cx="999" cy="337" r="5"/><text x="1005" y="323" style="font-size:20px">bjornskau t.</text></g>
<g id="n-weick-k" class="g"><circle cx="783" cy="380" r="6"/><text x="784" y="375">weick k.</text></g>
<g id="n-vaughan-d" class="g"><circle cx="659" cy="420" r="7"/><text x="659" y="418" style="font-size:20px">vaughan d.</text></g>
<g id="n-aven-t" class="g"><circle cx="975" cy="455" r="6"/><text x="982" y="455">aven t.</text></g>
<g id="n-koves-gk" class="g"><circle cx="1030" cy="462" r="6"/><text x="1035" y="459" style="font-size:18px">koves g.k.</text></g>
<g id="n-salminen-s" class="g"><circle cx="985" cy="500" r="6"/><text x="985" y="499">salminen s.</text></g>
<g id="n-goerlandt-f" class="g"><circle cx="975" cy="548" r="6"/><text x="971" y="545">goerlandt f.</text></g>
<g id="n-stemn-e" class="g"><circle cx="1055" cy="540" r="6.5"/><text x="1062" y="537" style="font-size:18px">stemn e.</text></g>
<g id="n-griffin-m" class="g"><circle cx="800" cy="585" r="6"/><text x="800" y="585" style="font-size:17px">griffin m.</text></g>
<g id="n-wu-tc" class="g"><circle cx="945" cy="602" r="7"/><text x="940" y="601" style="font-size:18px">wu t.c.</text></g>
<g id="n-hasle-p" class="g"><circle cx="1108" cy="608" r="7"/><text x="1106" y="606">hasle p.</text></g>
<g id="n-mitropoulos-p" class="g"><circle cx="1013" cy="626" r="7"/><text x="1013" y="623" style="font-size:18px">mitropoulos p.</text></g>
<g id="n-wang-l" class="g"><circle cx="702" cy="650" r="7"/><text x="706" y="643" style="font-size:20px">wang l.</text></g>
<g id="n-sun-j" class="g"><circle cx="763" cy="646" r="7"/><text x="763" y="643">sun j.</text></g>
<g id="n-zou-pxw" class="g"><circle cx="992" cy="660" r="8"/><text x="988" y="655">zou p.x.w.</text></g>
<g id="n-tam-cm" class="g"><circle cx="1040" cy="672" r="6"/><text x="1047" y="670" style="font-size:18px">tam c.m.</text></g>
<g id="n-sherratt-f" class="g"><circle cx="1095" cy="682" r="7"/><text x="1096" y="681" style="font-size:18px">sherratt f.</text></g>
<g id="n-han-y" class="g"><circle cx="729" cy="682" r="7"/><text x="727" y="683" style="font-size:18px">han y.</text></g>
<g id="n-wang-h" class="g"><circle cx="820" cy="694" r="8"/><text x="818" y="694" style="font-size:20px">wang h.</text></g>
<g id="n-hu-x" class="g"><circle cx="893" cy="708" r="7"/><text x="896" y="706">hu x.</text></g>
<g id="n-al-bayati-aj" class="g"><circle cx="1043" cy="722" r="7"/><text x="1040" y="720" style="font-size:20px">al-bayati a.j.</text></g>
<g id="n-wang-c" class="g"><circle cx="900" cy="756" r="7"/><text x="898" y="757">wang c.</text></g>
<g id="n-park-m" class="g"><circle cx="997" cy="774" r="7"/><text x="998" y="770">park m.</text></g>
<g id="n-sacks-r" class="g"><circle cx="1073" cy="760" r="6.5"/><text x="1069" y="761" style="font-size:18px">sacks r.</text></g>
<g id="n-jha-kn" class="g"><circle cx="1120" cy="764" r="6"/><text x="1117" y="764" style="font-size:18px">jha k.n.</text></g>
<g id="n-arcury-ta" class="g"><circle cx="1098" cy="800" r="10"/><text x="1097" y="800">arcury t.a.</text></g>
<g id="n-fargnoli-m" class="g"><circle cx="1172" cy="808" r="6.5"/><text x="1172" y="806" style="font-size:18px">fargnoli m.</text></g>
<g id="n-chen-p" class="g"><circle cx="920" cy="860" r="6.5"/><text x="918" y="855" style="font-size:20px">chen p.</text></g>
<g id="n-wang-w" class="g"><circle cx="855" cy="860" r="6.5"/><text x="851" y="865" style="font-size:18px">wang w.</text></g>
<g id="n-li-s" class="g"><circle cx="1007" cy="880" r="6.5"/><text x="1007" y="877">li s.</text></g>
<g id="n-xie-x" class="g"><circle cx="1083" cy="864" r="6.5"/><text x="1083" y="861" style="font-size:17px">xie x.</text></g>
<g id="n-guo-bh" class="g"><circle cx="1134" cy="846" r="6"/><text x="1135" y="847" style="font-size:17px">guo b.h.</text></g>
<g id="n-tomasevic-i" class="b"><circle cx="1344" cy="180" r="6"/><text x="1363" y="177">tomasevic i.</text></g>
<g id="n-djekic-i" class="b"><circle cx="1411" cy="153" r="6"/><text x="1423" y="143">djekic i.</text></g>
<g id="n-jevsnik-m" class="b"><circle cx="1526" cy="101" r="5"/><text x="1525" y="99" style="font-size:18px">jevsnik m.</text></g>
</g>
</g>
</svg>
